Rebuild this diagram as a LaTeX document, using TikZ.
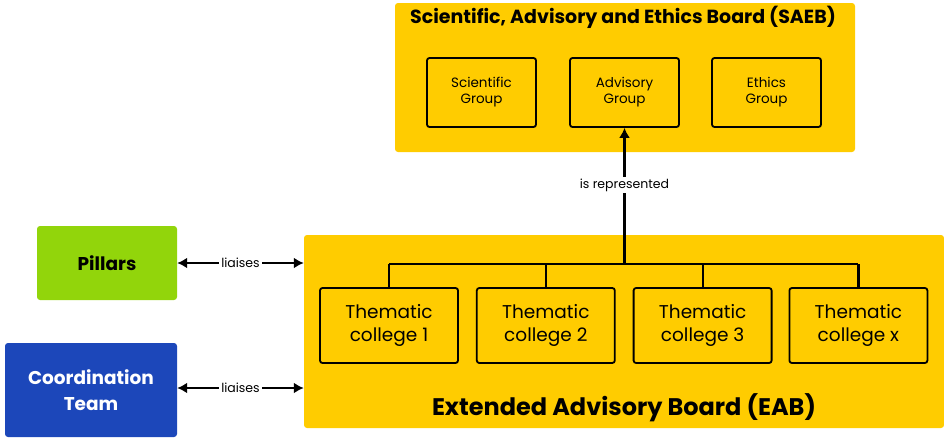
\documentclass[tikz,border=0pt]{standalone}
\usepackage{fontspec}
\setmainfont{Poppins}
\usetikzlibrary{arrows.meta,positioning}
\definecolor{boardyellow}{HTML}{FFCC00}
\definecolor{pillargreen}{HTML}{92D50B}
\definecolor{coordblue}{HTML}{1C47BA}
\tikzstyle{board} = [rectangle, fill=boardyellow, rounded corners=3pt, inner sep=0pt]
\tikzstyle{group} = [rectangle, draw, line width=1.8pt, rounded corners=2.5pt, minimum width=109pt, minimum height=69pt, align=center, font=\fontsize{13.5}{16}\selectfont]
\tikzstyle{college} = [group, minimum width=138pt, minimum height=75pt, font=\fontsize{18.5}{23}\selectfont]
\tikzstyle{side} = [rectangle, rounded corners=3pt, minimum width=140pt, align=center, font=\bfseries\fontsize{18.5}{26}\selectfont]
\tikzstyle{wire} = [line width=2.2pt]
\tikzstyle{link} = [wire, {Latex[length=10pt,width=11pt]}-{Latex[length=10pt,width=11pt]}]
\tikzstyle{tag} = [fill=white, inner sep=2pt, font=\fontsize{12.5}{14}\selectfont]

\begin{document}
\begin{tikzpicture}[x=1pt, y=-1pt]
      \useasboundingbox (0,0) rectangle (944,437);
      % upper board
      \node[board, minimum width=460pt, minimum height=149pt] (saeb) at (625,77.5) {};
      \node[font=\bfseries\fontsize{19}{22}\selectfont] (saebt) at (623,17) {Scientific, Advisory and Ethics Board (SAEB)};
      \node[group] (sci) at (481.5,92.5) {Scientific\\Group};
      \node[group] (adv) at (624.5,92.5) {Advisory\\Group};
      \node[group] (eth) at (766.5,92.5) {Ethics\\Group};
      % extended board
      \node[board, minimum width=640pt, minimum height=193pt] (eab) at (624,331.5) {};
      \node[font=\bfseries\fontsize{24}{28}\selectfont] (eabt) at (624,408) {Extended Advisory Board (EAB)};
      \node[college] (c1) at (389,325.5) {Thematic\\college 1};
      \node[college, right=17pt of c1] (c2) {Thematic\\college 2};
      \node[college, right=17pt of c2] (c3) {Thematic\\college 3};
      \node[college, right=16pt of c3] (cx) {Thematic\\college x};
      % side boxes
      \node[side, fill=pillargreen, minimum height=74pt] (pil) at (107,263) {Pillars};
      \node[side, fill=coordblue, text=white, minimum width=172pt, minimum height=94pt] (coord) at (91,390) {Coordination\\Team};
      % connectors
      \coordinate (hub) at (adv.south |- 0,264);
      \draw[wire] (c1.north |- hub) -- (cx.north |- hub);
      \foreach \c in {c1,c2,c3,cx}
        \draw[wire] (\c.north) -- (\c.north |- hub);
      \draw[wire, -{Latex[length=10pt,width=11pt]}] (hub) -- node[tag, pos=0.58] {is represented} (adv.south);
      \draw[link] (pil.east) -- node[tag] {liaises} (pil.east -| eab.west);
      \draw[link] (coord.east |- 0,388) -- node[tag] {liaises} (eab.west |- 0,388);
    \end{tikzpicture}
\end{document}
